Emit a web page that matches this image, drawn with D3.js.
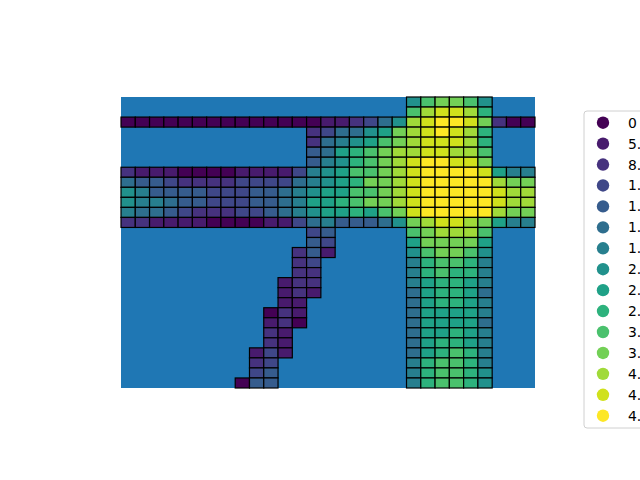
<!DOCTYPE html>
<html>
<head>
<meta charset="utf-8">
<script src="https://cdn.jsdelivr.net/npm/d3@7"></script>
<style>
  body { margin: 0; background: #fff; }
  svg { display: block; }
</style>
</head>
<body>
<div id="chart"></div>
<script>
// class of each grid cell, one string per row (top to bottom)
// '.' = no cell, 0-9 then a-e = class 10-14
var gridRows = [
  "....................7abba7...",
  "....................acddc9...",
  "00000000000000112357cdeedb200",
  ".............235578bcdedc9...",
  ".............25678abcdddc9...",
  ".............4589abccddcca...",
  ".............4679abcdeeddb...",
  "2111000011113678aabcdeeeed866",
  "54432222333356789bbcdeeeeecbb",
  "7644443334456788aabcdeeeeedcc",
  "7665443334456889abbcdeeeeedcc",
  "655432223345678898abdeeeeecbb",
  "22111100001135644457bcddcb866",
  ".............34.....abccca...",
  ".............43.....8bbbb8...",
  "............241.....7abba7...",
  "............23......69aa96...",
  "............22......69a996...",
  "...........122......689986...",
  "...........121......589985...",
  "...........11.......589986...",
  "..........021.......588886...",
  "..........120.......588885...",
  "..........21........588986...",
  "..........21........589986...",
  ".........131........589a96...",
  ".........23.........69aa96...",
  ".........34.........69aa97...",
  "........044.........69aa97..."
];

// legend labels run off the right edge of the figure, as in the original
var legendLabels = ["0", "5.21e-05", "8.47e-05", "1.13e-04", "1.39e-04", "1.64e-04",
                    "1.92e-04", "2.18e-04", "2.47e-04", "2.76e-04", "3.09e-04",
                    "3.48e-04", "4.02e-04", "4.41e-04", "4.86e-04"];

var nClasses = legendLabels.length;
var nCols = gridRows[0].length;
var nRows = gridRows.length;

var cells = [];
gridRows.forEach(function(row, r) {
  row.split("").forEach(function(ch, c) {
    if (ch !== ".") cells.push({row: r, col: c, k: parseInt(ch, 16)});
  });
});

var width = 640, height = 480;

var svg = d3.select("#chart").append("svg")
    .attr("width", width)
    .attr("height", height);

var x = d3.scaleLinear().domain([0, nCols]).range([121, 535]);
var y = d3.scaleLinear().domain([0, nRows]).range([97, 388]);
var color = function(k) { return d3.interpolateViridis(k / (nClasses - 1)); };

// background polygon
svg.append("rect")
    .attr("x", x(0))
    .attr("y", y(0))
    .attr("width", x(nCols) - x(0))
    .attr("height", y(nRows) - y(0))
    .attr("fill", "#1f77b4");

svg.append("g")
    .attr("class", "cells")
  .selectAll("rect")
  .data(cells)
  .enter().append("rect")
    .attr("x", function(d) { return x(d.col); })
    .attr("y", function(d) { return y(d.row); })
    .attr("width", x(1) - x(0))
    .attr("height", y(1) - y(0))
    .attr("fill", function(d) { return color(d.k); })
    .attr("stroke", "#000")
    .attr("stroke-width", 1.2);

// legend
var legend = svg.append("g")
    .attr("transform", "translate(584,111)");

legend.append("rect")
    .attr("x", 0)
    .attr("y", 0)
    .attr("width", 120)
    .attr("height", 317)
    .attr("rx", 3)
    .attr("fill", "#fff")
    .attr("stroke", "#d0d0d0");

var item = legend.selectAll("g.item")
    .data(legendLabels)
    .enter().append("g")
    .attr("class", "item")
    .attr("transform", function(d, i) { return "translate(0," + (11.7 + i * 20.93) + ")"; });

item.append("circle")
    .attr("cx", 19)
    .attr("cy", 0)
    .attr("r", 6.2)
    .attr("fill", function(d, i) { return color(i); });

item.append("text")
    .attr("x", 44)
    .attr("y", 5)
    .attr("font-family", "DejaVu Sans")
    .attr("font-size", "13.9px")
    .attr("fill", "#000")
    .text(function(d) { return d; });
</script>
</body>
</html>
